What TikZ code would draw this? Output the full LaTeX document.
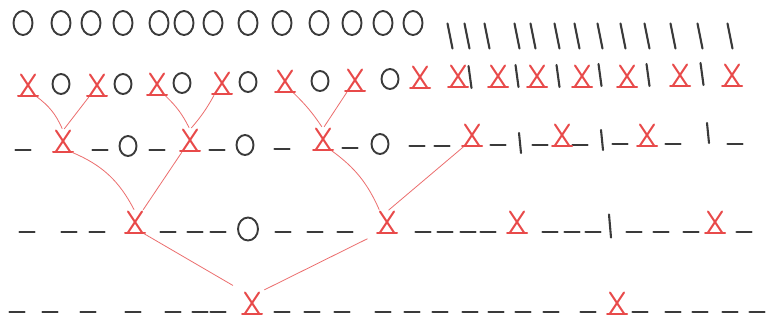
\documentclass[tikz,border=0pt]{standalone}
\usetikzlibrary{shapes.geometric}
\definecolor{ink}{HTML}{3A3A3A}
\definecolor{redink}{HTML}{E84A4A}
\definecolor{linkred}{HTML}{EC6E6E}
\tikzset{
  inkline/.style={draw=ink, line width=2.1pt, line cap=round},
  redline/.style={draw=redink, line width=2pt, line cap=round},
  glyph/.style={inner sep=0pt, outer sep=0pt},
  ring/.style={ellipse, draw=ink, line width=1.9pt, minimum width=19pt, minimum height=24pt, inner sep=0pt},
  smallring/.style={ring, minimum width=17pt, minimum height=20pt},
  barmark/.style={glyph, minimum width=5pt, minimum height=25pt,
    append after command={(\tikzlastnode.north west) edge[inkline] (\tikzlastnode.south east)}},
  shortbar/.style={barmark, minimum width=2pt, minimum height=20pt},
  dashmark/.style={glyph, minimum width=15pt, minimum height=0pt,
    append after command={(\tikzlastnode.west) edge[inkline] (\tikzlastnode.east)}},
  xmark/.style={glyph, minimum width=14pt, minimum height=21pt,
    append after command={(\tikzlastnode.north west) edge[redline] (\tikzlastnode.south east)
      (\tikzlastnode.north east) edge[redline] (\tikzlastnode.south west)
      ([xshift=-3pt]\tikzlastnode.south west) edge[redline] ([xshift=3pt]\tikzlastnode.south east)}},
  link/.style={draw=linkred, line width=0.8pt, shorten <=2pt, shorten >=2pt},
}
\begin{document}
\begin{tikzpicture}[x=1pt,y=-1pt]
\useasboundingbox[fill=white] (0,0) rectangle (767,329);
% ---- row 1
\foreach \x [count=\i] in {23,61,91,123,159,184,213,248,282,319,352,383,413}
  \node[ring] (ra\i) at (\x,23) {};
\foreach \x [count=\i] in {450,467,487,517,533,557,577,600,623,647,673,700,730}
  \node[barmark] (rb\i) at (\x,36) {};
% ---- row 2
\foreach \x/\y [count=\i] in {28/85,97/85,157/84,222/83,285/81,355/80,420/77,458/76,498/76,537/76,582/76,627/76,680/75,732/75}
  \node[xmark] (r2x\i) at (\x,\y) {};
\foreach \x/\y [count=\i] in {61/84,123/84,182/83,248/82,320/81,390/79}
  \node[smallring] (r2o\i) at (\x,\y) {};
\foreach \x/\y [count=\i] in {470/77,517/76,558/76,600/75,648/75,702/74}
  \node[barmark, minimum height=22pt, minimum width=3pt] (r2b\i) at (\x,\y) {};
% ---- row 3
\foreach \x/\y [count=\i] in {23/150,100/150,157/150,217/150,282/149,350/148,417/146,442/146,498/145,540/145,580/145,620/144,673/144,735/144}
  \node[dashmark] (r3d\i) at (\x,\y) {};
\foreach \x/\y [count=\i] in {63/141,190/140,323/139,472/135,562/135,647/135}
  \node[xmark] (r3x\i) at (\x,\y) {};
\foreach \x/\y [count=\i] in {128/146,245/145,380/144}
  \node[smallring] (r3o\i) at (\x,\y) {};
\foreach \x/\y [count=\i] in {520/143,602/140,708/133}
  \node[shortbar] (r3b\i) at (\x,\y) {};
% ---- row 4
\foreach \x [count=\i] in {27,69,97,168,195,218,283,315,345,423,445,468,488,550,572,593,634,661,691,744}
  \node[dashmark] (r4d\i) at (\x,232) {};
\foreach \x [count=\i] in {135,387,517,715}
  \node[xmark] (r4x\i) at (\x,222) {};
\node[ring, minimum width=20pt, minimum height=23pt] (r4o1) at (248,229) {};
\node[shortbar, minimum height=23pt] (r4b1) at (610,226) {};
% ---- row 5
\foreach \x [count=\i] in {17,50,88,133,173,200,218,282,312,342,383,412,440,470,496,523,551,588,640,673,700,730,757}
  \node[dashmark] (r5d\i) at (\x,312) {};
\foreach \x [count=\i] in {252,617}
  \node[xmark] (r5x\i) at (\x,303) {};
% ---- connectors
\draw[link] (r2x1.south east) to[bend left=15] (r3x1.north);
\draw[link] (r2x2.south west) -- (r3x1.north);
\draw[link] (r2x3.south east) to[bend left=10] (r3x2.north);
\draw[link] (r2x4.south west) to[bend left=6] (r3x2.north);
\draw[link] (r2x5.south east) to[bend left=6] (r3x3.north);
\draw[link] (r2x6.south west) -- (r3x3.north);
\draw[link] (r3x1.south east) to[bend left=20] (r4x1.north);
\draw[link] (r3x2.south west) -- (r4x1.north east);
\draw[link] (r3x3.south east) to[bend left=15] (r4x2.north west);
\draw[link] (r3x4.south west) -- (r4x2.north);
\draw[link, shorten >=14pt] (r4x1.south east) -- (r5x1.north west);
\draw[link, shorten <=14pt, shorten >=6pt] (r4x2.south west) -- (r5x1.north east);
\end{tikzpicture}
\end{document}
